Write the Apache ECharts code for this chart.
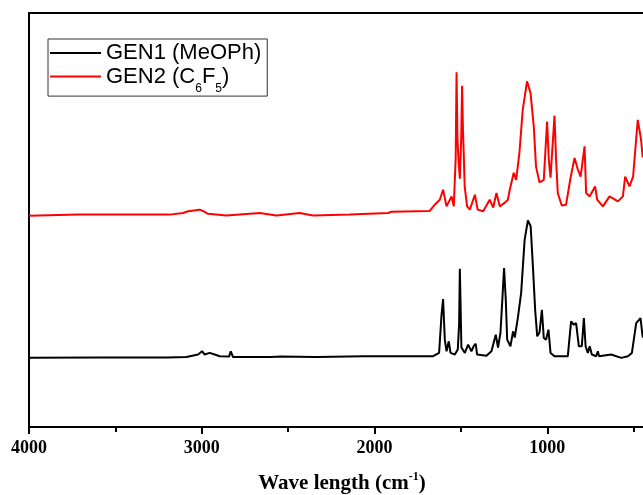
<!DOCTYPE html>
<html>
<head>
<meta charset="utf-8">
<script src="https://cdn.jsdelivr.net/npm/echarts@6/dist/echarts.min.js"></script>
<style>
  html, body { margin: 0; padding: 0; background: #fff; }
  #chart { width: 643px; height: 495px; }
</style>
</head>
<body>
<div id="chart"></div>
<script>
// FT-IR spectra, wavenumber in cm-1 (axis runs high to low), intensity in arbitrary units (offset traces)
const gen1Wavenumber = [4000, 3600, 3200, 3089, 3021, 2998, 2983, 2954, 2925, 2896, 2842, 2836, 2832, 2819, 2600, 2540, 2530, 2350, 2345, 2330, 2066, 1930, 1921, 1661, 1626, 1612, 1603, 1593, 1583, 1570, 1560, 1535, 1518, 1510, 1506, 1502, 1497, 1477, 1458, 1439, 1425, 1414, 1406, 1352, 1323, 1298, 1285, 1271, 1259, 1250, 1240, 1232, 1213, 1198, 1188, 1169, 1151, 1131, 1112, 1096, 1083, 1070, 1058, 1045, 1031, 1020, 1007, 993, 981, 958, 881, 862, 846, 833, 817, 800, 788, 778, 765, 754, 742, 717, 707, 700, 630, 572, 533, 510, 485, 460, 448, 430];
const gen1Intensity  = [16.7, 16.8, 16.8, 16.9, 17.5, 18.3, 17.5, 17.9, 17.5, 17.1, 17.0, 17.4, 18.3, 16.9, 16.9, 17.0, 16.9, 16.9, 17.1, 16.9, 17.1, 17.1, 16.9, 17.1, 17.9, 27.1, 30.9, 21.1, 18.3, 20.7, 17.9, 17.5, 18.7, 25.0, 38.2, 30.0, 19.2, 17.9, 19.9, 18.3, 19.6, 20.1, 17.5, 17.2, 18.3, 22.3, 19.2, 22.7, 31.5, 38.4, 30.7, 21.1, 19.5, 23.1, 21.6, 26.7, 32.4, 45.2, 49.9, 48.5, 38.8, 28.3, 21.9, 22.8, 28.3, 21.5, 21.1, 23.5, 17.9, 17.1, 17.1, 25.5, 24.7, 25.1, 19.5, 19.5, 26.3, 19.5, 17.9, 19.5, 17.5, 17.1, 18.3, 17.1, 17.5, 16.7, 17.1, 17.9, 25.1, 26.3, 21.9, 21.1];

const gen2Wavenumber = [4000, 3716, 3185, 3108, 3079, 3012, 2988, 2964, 2857, 2664, 2568, 2433, 2356, 2143, 1921, 1902, 1680, 1651, 1622, 1603, 1583, 1554, 1541, 1530, 1525, 1520, 1515, 1506, 1498, 1493, 1488, 1483, 1478, 1464, 1448, 1419, 1403, 1371, 1333, 1313, 1294, 1275, 1245, 1228, 1217, 1209, 1194, 1180, 1161, 1142, 1117, 1097, 1078, 1065, 1045, 1020, 1001, 991, 981, 958, 949, 939, 916, 891, 865, 842, 823, 807, 784, 775, 755, 723, 711, 678, 639, 591, 562, 549, 524, 503, 476, 457, 448, 430];
const gen2Intensity  = [51.0, 51.3, 51.3, 51.7, 52.1, 52.5, 52.1, 51.5, 51.1, 51.7, 51.1, 51.7, 51.1, 51.3, 51.7, 52.0, 52.2, 53.7, 54.9, 57.3, 53.3, 55.7, 53.3, 65.0, 85.7, 70.0, 65.4, 60.0, 70.0, 82.4, 72.0, 65.5, 58.1, 53.3, 52.5, 56.1, 52.5, 52.1, 54.9, 53.0, 56.5, 53.3, 54.2, 54.9, 57.3, 57.3, 61.4, 59.7, 66.3, 76.6, 83.5, 80.7, 72.6, 62.9, 59.1, 59.7, 73.8, 64.6, 60.2, 75.2, 64.6, 56.5, 53.5, 53.7, 60.2, 65.0, 62.2, 60.5, 67.8, 56.5, 55.7, 58.1, 54.9, 53.3, 55.7, 54.5, 55.7, 60.5, 58.1, 60.5, 74.2, 69.4, 65.4, 64.6];

const seriesNames = ['GEN1 (MeOPh)', 'GEN2 (C6F5)'];
const seriesColors = ['#000000', '#ff0000'];
const xTickLabels = [4000, 3000, 2000, 1000];
const axisTitle = 'Wave length (cm';
const axisTitleSup = '-1';

function pairs(xs, ys) {
  return xs.map((x, i) => [x, ys[i]]);
}

const chart = echarts.init(document.getElementById('chart'), null, { renderer: 'canvas' });

const serif = '"Liberation Serif", "Times New Roman", serif';
const sans = '"Liberation Sans", Arial, sans-serif';

chart.setOption({
  animation: false,
  backgroundColor: '#ffffff',
  grid: {
    left: 29, top: 13, width: 691, height: 414,
    outerBoundsMode: 'none',
    containLabel: false,
    show: true, borderColor: '#000', borderWidth: 2, backgroundColor: 'transparent'
  },
  legend: {
    orient: 'vertical',
    left: 48, top: 39,
    padding: [3, 6, 1, 2],
    itemGap: -5.9,
    itemWidth: 51, itemHeight: 2,
    icon: 'rect',
    borderColor: '#333', borderWidth: 1,
    backgroundColor: '#fff',
    data: seriesNames,
    formatter: function (name) {
      const m = name.match(/^(.*\(C)(\d)(F)(\d)(\))$/);
      if (m) {
        return '{t|' + m[1] + '}{s|' + m[2] + '}{t|' + m[3] + '}{s|' + m[4] + '}{t|' + m[5] + '}';
      }
      return '{t|' + name + '}';
    },
    textStyle: {
      color: '#000', fontFamily: sans, fontSize: 22, lineHeight: 22,
      rich: {
        t: { fontFamily: sans, fontSize: 22, lineHeight: 22, color: '#000' },
        s: { fontFamily: sans, fontSize: 12, lineHeight: 22, color: '#000', padding: [25, 0, 0, 0] }
      }
    }
  },
  xAxis: {
    type: 'value',
    inverse: true,
    min: 0, max: 4000, interval: 1000,
    axisLine: { show: true, lineStyle: { color: '#000', width: 2 } },
    axisTick: { show: true, length: 7, lineStyle: { color: '#000', width: 2 } },
    minorTick: { show: true, splitNumber: 2, length: 5, lineStyle: { color: '#000', width: 2 } },
    splitLine: { show: false },
    axisLabel: {
      margin: 12,
      color: '#000', fontFamily: serif, fontWeight: 'bold', fontSize: 18,
      formatter: v => (xTickLabels.indexOf(v) >= 0 ? String(v) : '')
    }
  },
  yAxis: {
    type: 'value',
    min: 0, max: 100,
    axisLine: { show: true, lineStyle: { color: '#000', width: 2 } },
    axisTick: { show: false },
    axisLabel: { show: false },
    splitLine: { show: false }
  },
  graphic: [{
    type: 'text',
    x: 342, y: 484,
    style: {
      text: '{a|' + axisTitle + '}{b|' + axisTitleSup + '}{a|)}',
      textAlign: 'center',
      textVerticalAlign: 'middle',
      rich: {
        a: { fontFamily: serif, fontWeight: 'bold', fontSize: 21, lineHeight: 24, fill: '#000', color: '#000' },
        b: { fontFamily: serif, fontWeight: 'bold', fontSize: 12, lineHeight: 24, fill: '#000', color: '#000', padding: [0, 0, 14, 0] }
      }
    }
  }],
  series: [
    {
      name: seriesNames[0], type: 'line', data: pairs(gen1Wavenumber, gen1Intensity),
      symbol: 'none', color: seriesColors[0], lineStyle: { width: 2, color: seriesColors[0] }
    },
    {
      name: seriesNames[1], type: 'line', data: pairs(gen2Wavenumber, gen2Intensity),
      symbol: 'none', color: seriesColors[1], lineStyle: { width: 2, color: seriesColors[1] }
    }
  ]
});
</script>
</body>
</html>
